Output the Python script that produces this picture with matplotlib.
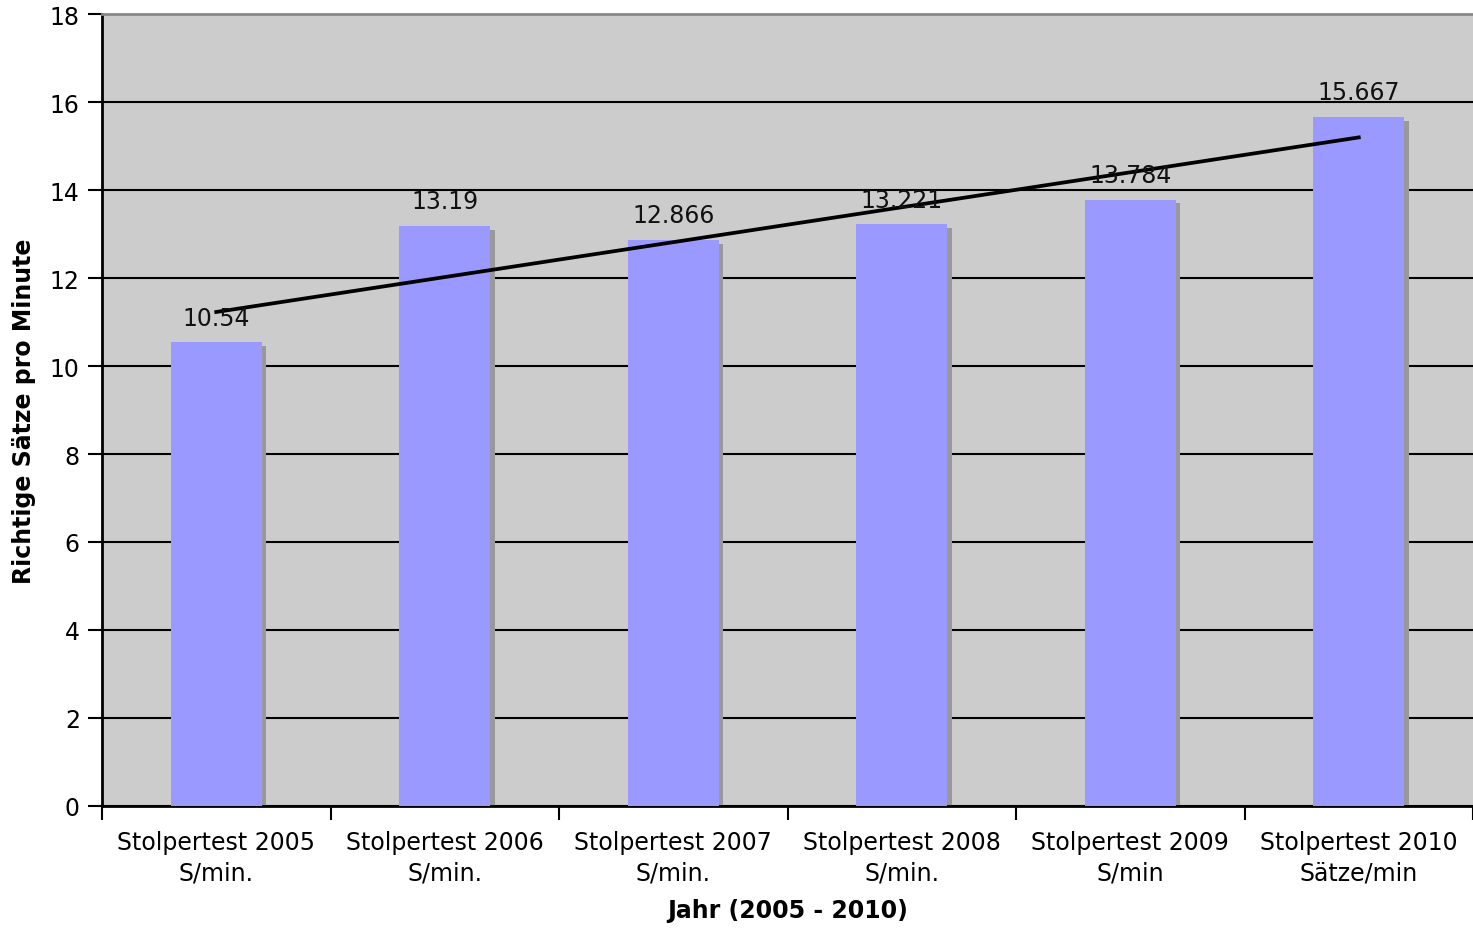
import numpy as np
import matplotlib.pyplot as plt
from matplotlib.ticker import FixedLocator, NullFormatter

categories = [
    "Stolpertest 2005\nS/min.",
    "Stolpertest 2006\nS/min.",
    "Stolpertest 2007\nS/min.",
    "Stolpertest 2008\nS/min.",
    "Stolpertest 2009\nS/min",
    "Stolpertest 2010\nSätze/min",
]
values = [10.54, 13.19, 12.866, 13.221, 13.784, 15.667]
value_labels = ["10.54", "13.19", "12.866", "13.221", "13.784", "15.667"]
y_ticks = [0, 2, 4, 6, 8, 10, 12, 14, 16, 18]

plt.rcParams["font.family"] = ["DejaVu Sans"]

fig = plt.figure(figsize=(14.73, 9.29), dpi=100)
ax = fig.add_axes([102 / 1473, 1 - 807 / 929, 1 - 102 / 1473, (807 - 15) / 929])
ax.set_facecolor("#cccccc")

x = np.arange(len(values))
width = 0.4

# drop shadow: a gray copy of each bar, nudged right and down
ax.bar(x + 0.018, np.array(values) - 0.09, width=width, color="#999999", zorder=2)
ax.bar(x, values, width=width, color="#9999ff", zorder=3)

for xi, v, lab in zip(x, values, value_labels):
    ax.annotate(lab, (xi, v), xytext=(0, 9), textcoords="offset points",
                ha="center", va="bottom", fontsize=17, color="#111111", zorder=5)

# linear trend line
slope, intercept = np.polyfit(x, values, 1)
ax.plot(x, slope * x + intercept, color="black", lw=2.7, zorder=4)

ax.set_xlim(-0.5, len(values) - 0.5)
ax.set_ylim(0, 18)
ax.set_yticks(y_ticks)
ax.yaxis.grid(True, color="black", lw=1.5, zorder=1)
ax.set_axisbelow(True)

ax.set_xticks(x)
ax.set_xticklabels(categories, fontsize=17, linespacing=1.35)
ax.tick_params(axis="x", length=0, pad=17)
ax.xaxis.set_minor_locator(FixedLocator(np.arange(-0.5, len(values), 1.0)))
ax.xaxis.set_minor_formatter(NullFormatter())
ax.tick_params(axis="x", which="minor", length=10, width=1.5, direction="out")
ax.tick_params(axis="y", length=10, width=1.5, labelsize=17, pad=6)

for side in ["left", "bottom"]:
    ax.spines[side].set_color("black")
    ax.spines[side].set_linewidth(2)
ax.spines["top"].set_color("#888888")
ax.spines["top"].set_linewidth(2)
ax.spines["right"].set_visible(False)

ax.set_ylabel("Richtige Sätze pro Minute", fontsize=17, fontweight="bold", labelpad=10)
ax.set_xlabel("Jahr (2005 - 2010)", fontsize=17, fontweight="bold", labelpad=10)

fig.savefig("out.png", dpi=100)
